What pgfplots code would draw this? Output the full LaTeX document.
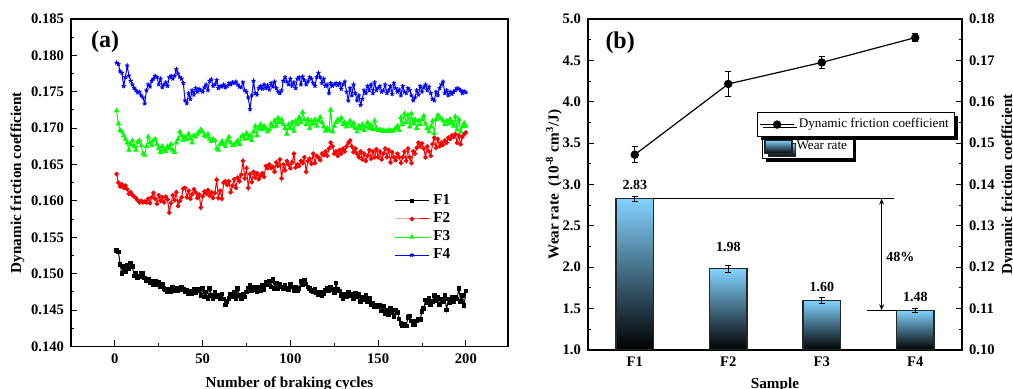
\documentclass[border=0pt]{standalone}
\usepackage{pgfplots}
\pgfplotsset{compat=1.18}
\usepackage{pgfplotstable}
\usepackage{fontspec}
\setmainfont{Liberation Serif}
\usetikzlibrary{shadows,arrows.meta}
\definecolor{barTop}{RGB}{130,210,255}
\definecolor{barMid}{RGB}{80,152,198}
\pgfplotsset{/pgf/number format/assume math mode=true}
\pgfplotsset{wearlegend/.style={legend image code/.code={\draw[##1] (0pt,-3.2pt) rectangle (13.5pt,3.5pt);}},
  wearbar/.style={ybar, bar width=0.4, bar shift=0pt, draw=black!85, line width=0.6pt,
  top color=barTop, middle color=barMid, bottom color=black}}
\newcommand{\tfont}{\fontsize{7.3}{8.5}\selectfont\bfseries}
\newcommand{\lfont}{\fontsize{7.6}{9}\selectfont\bfseries}
\pgfplotstableread{
x wr err ly
1 2.83 0.030 2.994
2 1.98 0.046 2.245
3 1.60 0.034 1.765
4 1.48 0.026 1.644
}\weartable
\pgfplotstableread{
x fc err
1 0.1472 0.0019
2 0.1643 0.0030
3 0.1695 0.0014
4 0.1755 0.0009
}\frictable
\begin{document}
\begin{tikzpicture}
% ---------------- (a) ----------------
\begin{axis}[
  at={(35.5pt,21.25pt)}, anchor=south west, scale only axis,
  width=218.5pt, height=163.75pt,
  xmin=-25, xmax=224, ymin=0.140, ymax=0.185,
  xtick={0,50,100,150,200}, minor x tick num=1,
  ytick={0.140,0.145,0.150,0.155,0.160,0.165,0.170,0.175,0.180,0.185},
  minor y tick num=1,
  tick align=inside, xtick pos=left, ytick pos=left,
  major tick length=3pt, minor tick length=1.6pt,
  scaled y ticks=false,
  y tick label style={/pgf/number format/.cd, fixed, fixed zerofill, precision=3},
  ticklabel style={font=\tfont},
  axis line style={line width=0.6pt},
  every tick/.style={black, line width=0.5pt},
  xlabel={Number of braking cycles}, ylabel={Dynamic friction coefficient},
  ylabel shift=-3.5pt,
  label style={font=\lfont},
  legend style={at={(0.725,0.49)}, anchor=north west, draw=none, fill=none,
    font=\lfont, row sep=-1.5pt},
  legend cell align=left,
]
\addplot[black, line width=0.5pt, mark=square*, mark size=0.9pt] coordinates {
(1,0.1532)(2,0.1530)(3,0.1513)(4,0.1500)(5,0.1510)(6,0.1503)(7,0.1512)(8,0.1507)(9,0.1515)(10,0.1510)
(11,0.1497)(12,0.1500)(13,0.1495)(14,0.1496)(15,0.1500)(16,0.1500)(17,0.1494)(18,0.1490)(19,0.1493)(20,0.1487)
(21,0.1490)(22,0.1485)(23,0.1489)(24,0.1485)(25,0.1488)(26,0.1482)(27,0.1486)(28,0.1480)(29,0.1478)(30,0.1475)
(31,0.1478)(32,0.1475)(33,0.1481)(34,0.1477)(35,0.1480)(36,0.1476)(37,0.1478)(38,0.1482)(39,0.1478)(40,0.1475)
(41,0.1477)(42,0.1473)(43,0.1476)(44,0.1473)(45,0.1478)(46,0.1474)(47,0.1479)(48,0.1476)(49,0.1470)(50,0.1480)
(51,0.1468)(52,0.1475)(53,0.1465)(54,0.1480)(55,0.1470)(56,0.1465)(57,0.1475)(58,0.1469)(59,0.1471)(60,0.1466)
(61,0.1472)(62,0.1465)(63,0.1457)(64,0.1462)(65,0.1466)(66,0.1472)(67,0.1468)(68,0.1474)(69,0.1466)(70,0.1480)
(71,0.1470)(72,0.1466)(73,0.1472)(74,0.1468)(75,0.1475)(76,0.1480)(77,0.1484)(78,0.1476)(79,0.1482)(80,0.1478)
(81,0.1475)(82,0.1481)(83,0.1476)(84,0.1484)(85,0.1478)(86,0.1488)(87,0.1485)(88,0.1490)(89,0.1482)(90,0.1492)
(91,0.1480)(92,0.1487)(93,0.1480)(94,0.1485)(95,0.1482)(96,0.1479)(97,0.1484)(98,0.1480)(99,0.1478)(100,0.1486)
(101,0.1482)(102,0.1477)(103,0.1481)(104,0.1476)(105,0.1480)(106,0.1489)(107,0.1485)(108,0.1491)(109,0.1486)(110,0.1482)
(111,0.1480)(112,0.1477)(113,0.1475)(114,0.1478)(115,0.1474)(116,0.1471)(117,0.1475)(118,0.1470)(119,0.1473)(120,0.1477)
(121,0.1480)(122,0.1476)(123,0.1482)(124,0.1478)(125,0.1474)(126,0.1487)(127,0.1478)(128,0.1476)(129,0.1470)(130,0.1466)
(131,0.1472)(132,0.1468)(133,0.1474)(134,0.1470)(135,0.1472)(136,0.1466)(137,0.1473)(138,0.1468)(139,0.1472)(140,0.1462)
(141,0.1468)(142,0.1464)(143,0.1470)(144,0.1462)(145,0.1466)(146,0.1458)(147,0.1460)(148,0.1455)(149,0.1456)(150,0.1454)
(151,0.1457)(152,0.1449)(153,0.1455)(154,0.1445)(155,0.1450)(156,0.1444)(157,0.1452)(158,0.1446)(159,0.1441)(160,0.1450)
(161,0.1447)(162,0.1438)(163,0.1432)(164,0.1428)(165,0.1430)(166,0.1428)(167,0.1440)(168,0.1442)(169,0.1435)(170,0.1430)
(171,0.1430)(172,0.1435)(173,0.1437)(174,0.1437)(175,0.1448)(176,0.1452)(177,0.1464)(178,0.1460)(179,0.1466)(180,0.1458)
(181,0.1462)(182,0.1470)(183,0.1463)(184,0.1468)(185,0.1458)(186,0.1465)(187,0.1462)(188,0.1470)(189,0.1450)(190,0.1465)
(191,0.1460)(192,0.1468)(193,0.1462)(194,0.1468)(195,0.1465)(196,0.1480)(197,0.1462)(198,0.1470)(199,0.1456)(200,0.1476)
};
\addlegendentry{F1}
\addplot[red, line width=0.5pt, mark=*, mark size=0.9pt] coordinates {
(1,0.1637)(2,0.1625)(3,0.1620)(4,0.1623)(5,0.1618)(6,0.1621)(7,0.1616)(8,0.1610)(9,0.1612)(10,0.1608)
(11,0.1606)(12,0.1604)(13,0.1601)(14,0.1598)(15,0.1600)(16,0.1598)(17,0.1599)(18,0.1598)(19,0.1603)(20,0.1597)
(21,0.1605)(22,0.1611)(23,0.1603)(24,0.1596)(25,0.1608)(26,0.1600)(27,0.1605)(28,0.1598)(29,0.1606)(30,0.1602)
(31,0.1584)(32,0.1597)(33,0.1608)(34,0.1601)(35,0.1612)(36,0.1593)(37,0.1600)(38,0.1605)(39,0.1617)(40,0.1618)
(41,0.1605)(42,0.1614)(43,0.1603)(44,0.1609)(45,0.1616)(46,0.1612)(47,0.1604)(48,0.1609)(49,0.1591)(50,0.1606)
(51,0.1613)(52,0.1610)(53,0.1615)(54,0.1607)(55,0.1612)(56,0.1604)(57,0.1611)(58,0.1629)(59,0.1604)(60,0.1614)
(61,0.1603)(62,0.1625)(63,0.1627)(64,0.1622)(65,0.1627)(66,0.1612)(67,0.1621)(68,0.1630)(69,0.1618)(70,0.1632)
(71,0.1627)(72,0.1636)(73,0.1655)(74,0.1631)(75,0.1645)(76,0.1618)(77,0.1637)(78,0.1626)(79,0.1640)(80,0.1632)
(81,0.1638)(82,0.1630)(83,0.1635)(84,0.1638)(85,0.1633)(86,0.1648)(87,0.1645)(88,0.1650)(89,0.1645)(90,0.1647)
(91,0.1640)(92,0.1653)(93,0.1648)(94,0.1657)(95,0.1631)(96,0.1650)(97,0.1642)(98,0.1655)(99,0.1650)(100,0.1645)
(101,0.1653)(102,0.1665)(103,0.1646)(104,0.1650)(105,0.1648)(106,0.1655)(107,0.1652)(108,0.1660)(109,0.1640)(110,0.1655)
(111,0.1658)(112,0.1651)(113,0.1665)(114,0.1652)(115,0.1662)(116,0.1660)(117,0.1656)(118,0.1665)(119,0.1663)(120,0.1668)
(121,0.1662)(122,0.1672)(123,0.1680)(124,0.1675)(125,0.1665)(126,0.1668)(127,0.1662)(128,0.1670)(129,0.1665)(130,0.1672)
(131,0.1668)(132,0.1675)(133,0.1680)(134,0.1683)(135,0.1675)(136,0.1667)(137,0.1672)(138,0.1665)(139,0.1660)(140,0.1668)
(141,0.1657)(142,0.1665)(143,0.1655)(144,0.1662)(145,0.1670)(146,0.1658)(147,0.1668)(148,0.1660)(149,0.1671)(150,0.1660)
(151,0.1668)(152,0.1657)(153,0.1665)(154,0.1672)(155,0.1660)(156,0.1670)(157,0.1653)(158,0.1667)(159,0.1660)(160,0.1656)
(161,0.1665)(162,0.1660)(163,0.1652)(164,0.1660)(165,0.1668)(166,0.1655)(167,0.1672)(168,0.1660)(169,0.1652)(170,0.1668)
(171,0.1665)(172,0.1673)(173,0.1680)(174,0.1675)(175,0.1679)(176,0.1672)(177,0.1660)(178,0.1675)(179,0.1668)(180,0.1662)
(181,0.1678)(182,0.1687)(183,0.1673)(184,0.1685)(185,0.1675)(186,0.1680)(187,0.1677)(188,0.1683)(189,0.1680)(190,0.1687)
(191,0.1685)(192,0.1690)(193,0.1688)(194,0.1692)(195,0.1680)(196,0.1690)(197,0.1678)(198,0.1688)(199,0.1692)(200,0.1694)
};
\addlegendentry{F2}
\addplot[green, line width=0.5pt, mark=triangle*, mark size=1.1pt] coordinates {
(1,0.1724)(2,0.1706)(3,0.1697)(4,0.1695)(5,0.1690)(6,0.1685)(7,0.1680)(8,0.1670)(9,0.1678)(10,0.1683)
(11,0.1675)(12,0.1670)(13,0.1681)(14,0.1683)(15,0.1676)(16,0.1665)(17,0.1663)(18,0.1675)(19,0.1688)(20,0.1680)
(21,0.1676)(22,0.1683)(23,0.1685)(24,0.1678)(25,0.1672)(26,0.1667)(27,0.1675)(28,0.1670)(29,0.1668)(30,0.1675)
(31,0.1672)(32,0.1678)(33,0.1670)(34,0.1667)(35,0.1680)(36,0.1685)(37,0.1695)(38,0.1690)(39,0.1683)(40,0.1688)
(41,0.1685)(42,0.1692)(43,0.1686)(44,0.1680)(45,0.1690)(46,0.1688)(47,0.1692)(48,0.1695)(49,0.1698)(50,0.1695)
(51,0.1690)(52,0.1688)(53,0.1692)(54,0.1685)(55,0.1682)(56,0.1685)(57,0.1683)(58,0.1672)(59,0.1670)(60,0.1678)
(61,0.1682)(62,0.1678)(63,0.1675)(64,0.1683)(65,0.1688)(66,0.1680)(67,0.1676)(68,0.1677)(69,0.1680)(70,0.1683)
(71,0.1678)(72,0.1688)(73,0.1690)(74,0.1685)(75,0.1693)(76,0.1686)(77,0.1690)(78,0.1683)(79,0.1695)(80,0.1703)
(81,0.1690)(82,0.1700)(83,0.1705)(84,0.1698)(85,0.1703)(86,0.1700)(87,0.1695)(88,0.1698)(89,0.1706)(90,0.1702)
(91,0.1710)(92,0.1703)(93,0.1714)(94,0.1708)(95,0.1712)(96,0.1705)(97,0.1700)(98,0.1692)(99,0.1705)(100,0.1700)
(101,0.1708)(102,0.1696)(103,0.1710)(104,0.1705)(105,0.1715)(106,0.1708)(107,0.1722)(108,0.1712)(109,0.1705)(110,0.1712)
(111,0.1700)(112,0.1710)(113,0.1706)(114,0.1712)(115,0.1703)(116,0.1710)(117,0.1715)(118,0.1708)(119,0.1702)(120,0.1696)
(121,0.1700)(122,0.1697)(123,0.1725)(124,0.1695)(125,0.1703)(126,0.1708)(127,0.1712)(128,0.1710)(129,0.1714)(130,0.1705)
(131,0.1708)(132,0.1702)(133,0.1706)(134,0.1710)(135,0.1703)(136,0.1707)(137,0.1700)(138,0.1695)(139,0.1703)(140,0.1700)
(141,0.1705)(142,0.1697)(143,0.1702)(144,0.1708)(145,0.1700)(146,0.1704)(147,0.1698)(148,0.1710)(149,0.1700)(150,0.1697)
(151,0.1698)(152,0.1696)(153,0.1697)(154,0.1696)(155,0.1696)(156,0.1697)(157,0.1696)(158,0.1696)(159,0.1697)(160,0.1700)
(161,0.1703)(162,0.1697)(163,0.1715)(164,0.1705)(165,0.1720)(166,0.1708)(167,0.1718)(168,0.1702)(169,0.1720)(170,0.1706)
(171,0.1712)(172,0.1700)(173,0.1710)(174,0.1705)(175,0.1712)(176,0.1717)(177,0.1706)(178,0.1700)(179,0.1695)(180,0.1702)
(181,0.1710)(182,0.1693)(183,0.1712)(184,0.1718)(185,0.1715)(186,0.1713)(187,0.1710)(188,0.1705)(189,0.1710)(190,0.1706)
(191,0.1712)(192,0.1708)(193,0.1703)(194,0.1716)(195,0.1698)(196,0.1712)(197,0.1695)(198,0.1702)(199,0.1707)(200,0.1703)
};
\addlegendentry{F3}
\addplot[blue, line width=0.5pt, mark=star, mark size=1.1pt] coordinates {
(1,0.1790)(2,0.1788)(3,0.1778)(4,0.1776)(5,0.1758)(6,0.1770)(7,0.1786)(8,0.1772)(9,0.1765)(10,0.1760)
(11,0.1755)(12,0.1752)(13,0.1749)(14,0.1750)(15,0.1745)(16,0.1742)(17,0.1734)(18,0.1752)(19,0.1760)(20,0.1757)
(21,0.1765)(22,0.1768)(23,0.1772)(24,0.1770)(25,0.1760)(26,0.1768)(27,0.1756)(28,0.1760)(29,0.1763)(30,0.1758)
(31,0.1770)(32,0.1772)(33,0.1768)(34,0.1772)(35,0.1781)(36,0.1775)(37,0.1770)(38,0.1768)(39,0.1762)(40,0.1738)
(41,0.1734)(42,0.1748)(43,0.1740)(44,0.1752)(45,0.1746)(46,0.1755)(47,0.1750)(48,0.1754)(49,0.1752)(50,0.1750)
(51,0.1756)(52,0.1760)(53,0.1752)(54,0.1765)(55,0.1767)(56,0.1758)(57,0.1760)(58,0.1766)(59,0.1755)(60,0.1758)
(61,0.1757)(62,0.1760)(63,0.1756)(64,0.1758)(65,0.1762)(66,0.1760)(67,0.1763)(68,0.1762)(69,0.1764)(70,0.1760)
(71,0.1757)(72,0.1756)(73,0.1763)(74,0.1752)(75,0.1750)(76,0.1742)(77,0.1726)(78,0.1745)(79,0.1765)(80,0.1748)
(81,0.1746)(82,0.1755)(83,0.1758)(84,0.1754)(85,0.1760)(86,0.1755)(87,0.1759)(88,0.1753)(89,0.1762)(90,0.1757)
(91,0.1764)(92,0.1755)(93,0.1750)(94,0.1748)(95,0.1752)(96,0.1765)(97,0.1770)(98,0.1764)(99,0.1760)(100,0.1768)
(101,0.1758)(102,0.1763)(103,0.1755)(104,0.1768)(105,0.1770)(106,0.1760)(107,0.1771)(108,0.1766)(109,0.1760)(110,0.1764)
(111,0.1770)(112,0.1768)(113,0.1762)(114,0.1758)(115,0.1770)(116,0.1776)(117,0.1770)(118,0.1762)(119,0.1768)(120,0.1758)
(121,0.1760)(122,0.1748)(123,0.1762)(124,0.1758)(125,0.1760)(126,0.1762)(127,0.1759)(128,0.1762)(129,0.1754)(130,0.1760)
(131,0.1764)(132,0.1750)(133,0.1738)(134,0.1755)(135,0.1745)(136,0.1760)(137,0.1748)(138,0.1738)(139,0.1745)(140,0.1732)
(141,0.1740)(142,0.1752)(143,0.1748)(144,0.1758)(145,0.1752)(146,0.1760)(147,0.1748)(148,0.1763)(149,0.1752)(150,0.1755)
(151,0.1758)(152,0.1750)(153,0.1752)(154,0.1760)(155,0.1748)(156,0.1752)(157,0.1758)(158,0.1747)(159,0.1762)(160,0.1755)
(161,0.1750)(162,0.1753)(163,0.1745)(164,0.1758)(165,0.1750)(166,0.1748)(167,0.1755)(168,0.1752)(169,0.1745)(170,0.1738)
(171,0.1742)(172,0.1752)(173,0.1746)(174,0.1758)(175,0.1750)(176,0.1756)(177,0.1760)(178,0.1752)(179,0.1757)(180,0.1748)
(181,0.1740)(182,0.1738)(183,0.1750)(184,0.1745)(185,0.1755)(186,0.1760)(187,0.1764)(188,0.1748)(189,0.1752)(190,0.1745)
(191,0.1750)(192,0.1747)(193,0.1750)(194,0.1752)(195,0.1755)(196,0.1754)(197,0.1752)(198,0.1748)(199,0.1751)(200,0.1749)
};
\addlegendentry{F4}
\node[font=\fontsize{12}{14}\selectfont\bfseries] at (rel axis cs:0.078,0.93) {(a)};
\end{axis}
% ---------------- (b) bars ----------------
\begin{axis}[
  at={(294pt,19.5pt)}, anchor=south west, scale only axis,
  width=187pt, height=165.5pt,
  xmin=0.5, xmax=4.5, ymin=0, ymax=4,
  xtick={1,2,3,4}, xticklabels={F1,F2,F3,F4},
  ytick={0,0.5,1,1.5,2,2.5,3,3.5,4},
  yticklabels={1.0,1.5,2.0,2.5,3.0,3.5,4.0,4.5,5.0},
  minor y tick num=1,
  tick align=inside, xtick pos=left, ytick pos=left,
  x tick style={draw=none},
  major tick length=3pt, minor tick length=1.6pt,
  ticklabel style={font=\tfont},
  axis line style={line width=0.6pt},
  every tick/.style={black, line width=0.5pt},
  xlabel={Sample}, ylabel={Wear rate\ \ (10\textsuperscript{-8} cm\textsuperscript{3}/J)},
  ylabel shift=-6.5pt, xlabel shift=-1.5pt,
  label style={font=\lfont},
  legend style={at={(0.465,0.650)}, anchor=north west, draw=black, fill=white,
    font=\fontsize{6.6}{7.5}\selectfont, inner sep=1pt,
    drop shadow={shadow xshift=1.6pt, shadow yshift=-1.6pt, fill=black, opacity=1}},
]
\addplot[wearbar, wearlegend, restrict x to domain=0.9:1.1]
  table[x=x, y expr=\thisrow{wr}-1] {\weartable};
\addlegendentry{Wear rate}
\addplot[wearbar, forget plot, restrict x to domain=1.9:2.1]
  table[x=x, y expr=\thisrow{wr}-1] {\weartable};
\addplot[wearbar, forget plot, restrict x to domain=2.9:3.1]
  table[x=x, y expr=\thisrow{wr}-1] {\weartable};
\addplot[wearbar, forget plot, restrict x to domain=3.9:4.1]
  table[x=x, y expr=\thisrow{wr}-1] {\weartable};
\addplot[forget plot, draw=none, mark=none,
  error bars/.cd, y dir=both, y explicit, error mark=-,
  error bar style={draw=black, line width=0.5pt},
  error mark options={rotate=90, mark size=1.5pt, line width=0.5pt, draw=black}]
  table[x=x, y expr=\thisrow{wr}-1, y error=err] {\weartable};
\addplot[forget plot, draw=none, mark=none, point meta=explicit,
  nodes near coords,
  every node near coord/.style={anchor=center, black, font=\fontsize{7}{8}\selectfont\bfseries,
    /pgf/number format/.cd, fixed, fixed zerofill, precision=2}]
  table[x=x, y expr=\thisrow{ly}-1, meta=wr] {\weartable};
\draw[line width=0.6pt] (axis cs:1.2,1.83) -- (axis cs:3.776,1.83);
\draw[line width=0.6pt] (axis cs:3.48,0.48) -- (axis cs:3.8,0.48);
\draw[line width=0.6pt, {Stealth[length=3pt,width=2.4pt]}-{Stealth[length=3pt,width=2.4pt]}]
  (axis cs:3.64,1.83) -- (axis cs:3.64,0.48);
\node[font=\fontsize{7}{8}\selectfont\bfseries] at (axis cs:3.84,1.128) {48\%};
\node[font=\fontsize{12}{14}\selectfont\bfseries] at (rel axis cs:0.086,0.927) {(b)};
\end{axis}
% ---------------- (b) friction ----------------
\begin{axis}[
  at={(294pt,19.5pt)}, anchor=south west, scale only axis,
  width=187pt, height=165.5pt,
  xmin=0.5, xmax=4.5, ymin=0.10, ymax=0.18,
  axis x line=none, axis y line*=right,
  ytick={0.10,0.11,0.12,0.13,0.14,0.15,0.16,0.17,0.18},
  minor y tick num=1,
  tick align=inside,
  major tick length=3pt, minor tick length=1.6pt,
  scaled y ticks=false,
  y tick label style={/pgf/number format/.cd, fixed, fixed zerofill, precision=2},
  ticklabel style={font=\tfont},
  axis line style={line width=0.6pt},
  every tick/.style={black, line width=0.5pt},
  ylabel={Dynamic friction coefficient}, ylabel shift=-3.5pt,
  label style={font=\lfont},
  legend style={at={(0.452,0.719)}, anchor=north west, draw=black, fill=white,
    font=\fontsize{6.6}{7.5}\selectfont, inner sep=1pt,
    drop shadow={shadow xshift=1.6pt, shadow yshift=-1.6pt, fill=black, opacity=1}},
]
\addplot[black, line width=0.6pt, mark=*, mark size=1.8pt,
  error bars/.cd, y dir=both, y explicit, error mark=-,
  error bar style={line width=0.5pt, black},
  error mark options={rotate=90, mark size=1.6pt, line width=0.5pt, black}]
  table[x=x, y=fc, y error=err] {\frictable};
\addlegendentry{Dynamic friction coefficient}
\end{axis}
\pgfresetboundingbox
\useasboundingbox (0,0) rectangle (506.5pt,194.5pt);
\end{tikzpicture}
\end{document}
